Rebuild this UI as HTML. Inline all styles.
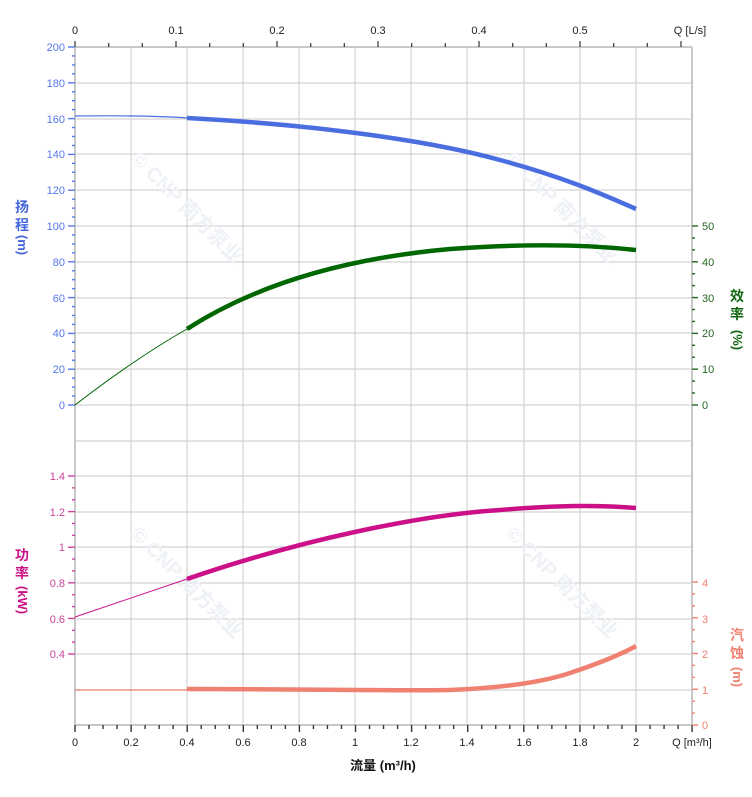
<!DOCTYPE html>
<html><head><meta charset="utf-8"><style>
html,body{margin:0;padding:0;background:#fff;}
svg{display:block;font-family:"Liberation Sans","Noto Sans CJK SC",sans-serif;}
</style></head><body>
<svg width="752" height="797" viewBox="0 0 752 797" xmlns="http://www.w3.org/2000/svg">
<g id="grid" stroke="#d4d4d4" stroke-width="1.2">
<line x1="131" y1="47" x2="131" y2="725"/><line x1="187" y1="47" x2="187" y2="725"/><line x1="243" y1="47" x2="243" y2="725"/><line x1="299" y1="47" x2="299" y2="725"/><line x1="355" y1="47" x2="355" y2="725"/><line x1="411" y1="47" x2="411" y2="725"/><line x1="467" y1="47" x2="467" y2="725"/><line x1="524" y1="47" x2="524" y2="725"/><line x1="580" y1="47" x2="580" y2="725"/><line x1="636" y1="47" x2="636" y2="725"/>
<line x1="75" y1="83" x2="692" y2="83"/><line x1="75" y1="119" x2="692" y2="119"/><line x1="75" y1="154" x2="692" y2="154"/><line x1="75" y1="190" x2="692" y2="190"/><line x1="75" y1="226" x2="692" y2="226"/><line x1="75" y1="262" x2="692" y2="262"/><line x1="75" y1="298" x2="692" y2="298"/><line x1="75" y1="333" x2="692" y2="333"/><line x1="75" y1="369" x2="692" y2="369"/><line x1="75" y1="405" x2="692" y2="405"/><line x1="75" y1="441" x2="692" y2="441"/><line x1="75" y1="476" x2="692" y2="476"/><line x1="75" y1="512" x2="692" y2="512"/><line x1="75" y1="547" x2="692" y2="547"/><line x1="75" y1="583" x2="692" y2="583"/><line x1="75" y1="619" x2="692" y2="619"/><line x1="75" y1="654" x2="692" y2="654"/><line x1="75" y1="690" x2="692" y2="690"/>
</g>
<g stroke="#c8c8c8" stroke-width="2" fill="none">
<line x1="75" y1="47" x2="692" y2="47"/><line x1="75" y1="725" x2="692" y2="725"/><line x1="75" y1="47" x2="75" y2="725"/><line x1="692" y1="47" x2="692" y2="725"/>
</g>
<g fill="#eef1f6" font-size="20" font-weight="bold">
<text transform="translate(130,160) rotate(45)">© CNP 南方泵业</text>
<text transform="translate(505,160) rotate(45)">© CNP 南方泵业</text>
<text transform="translate(130,535) rotate(45)">© CNP 南方泵业</text>
<text transform="translate(505,535) rotate(45)">© CNP 南方泵业</text>
</g>
<g stroke="#333" stroke-width="1.2">
<line x1="75" y1="41" x2="75" y2="47"/><line x1="108.7" y1="43" x2="108.7" y2="47"/><line x1="142.3" y1="43" x2="142.3" y2="47"/><line x1="176" y1="41" x2="176" y2="47"/><line x1="209.7" y1="43" x2="209.7" y2="47"/><line x1="243.3" y1="43" x2="243.3" y2="47"/><line x1="277" y1="41" x2="277" y2="47"/><line x1="310.7" y1="43" x2="310.7" y2="47"/><line x1="344.3" y1="43" x2="344.3" y2="47"/><line x1="378" y1="41" x2="378" y2="47"/><line x1="411.7" y1="43" x2="411.7" y2="47"/><line x1="445.3" y1="43" x2="445.3" y2="47"/><line x1="479" y1="41" x2="479" y2="47"/><line x1="512.7" y1="43" x2="512.7" y2="47"/><line x1="546.3" y1="43" x2="546.3" y2="47"/><line x1="580" y1="41" x2="580" y2="47"/><line x1="613.7" y1="43" x2="613.7" y2="47"/><line x1="647.3" y1="43" x2="647.3" y2="47"/><line x1="681" y1="41" x2="681" y2="47"/>
</g>
<g font-size="11" fill="#222" text-anchor="middle">
<text x="75" y="34">0</text><text x="176" y="34">0.1</text><text x="277" y="34">0.2</text><text x="378" y="34">0.3</text><text x="479" y="34">0.4</text><text x="580" y="34">0.5</text>
<text x="690" y="34" text-anchor="middle">Q [L/s]</text>
</g>
<g stroke="#333" stroke-width="1.2" id="bt"></g>
<g font-size="11" fill="#222" text-anchor="middle">
<text x="75" y="746">0</text><text x="131" y="746">0.2</text><text x="187" y="746">0.4</text><text x="243" y="746">0.6</text><text x="299" y="746">0.8</text><text x="355" y="746">1</text><text x="411" y="746">1.2</text><text x="467" y="746">1.4</text><text x="524" y="746">1.6</text><text x="580" y="746">1.8</text><text x="636" y="746">2</text>
<text x="692" y="746">Q [m³/h]</text>
</g>
<text x="383" y="770" font-size="13" font-weight="bold" fill="#111" text-anchor="middle">流量 (m³/h)</text>
<g font-size="11" fill="#5577ee" text-anchor="end">
<text x="65" y="51">200</text><text x="65" y="87">180</text><text x="65" y="123">160</text><text x="65" y="158">140</text><text x="65" y="194">120</text><text x="65" y="230">100</text><text x="65" y="266">80</text><text x="65" y="302">60</text><text x="65" y="337">40</text><text x="65" y="373">20</text><text x="65" y="409">0</text>
</g>
<g id="lt"></g>
<g font-size="11" fill="#cc4499" text-anchor="end">
<text x="65" y="480">1.4</text><text x="65" y="516">1.2</text><text x="65" y="551">1</text><text x="65" y="587">0.8</text><text x="65" y="623">0.6</text><text x="65" y="658">0.4</text>
</g>
<g font-size="11" fill="#226622">
<text x="702" y="230">50</text><text x="702" y="266">40</text><text x="702" y="302">30</text><text x="702" y="337">20</text><text x="702" y="373">10</text><text x="702" y="409">0</text>
</g>
<g font-size="11" fill="#f08070">
<text x="702" y="587">4</text><text x="702" y="623">3</text><text x="702" y="658">2</text><text x="702" y="694">1</text><text x="702" y="729">0</text>
</g>
<g font-size="14" font-weight="bold" text-anchor="middle">
<g fill="#4466dd"><text x="22" y="212">扬</text><text x="22" y="230">程</text><text transform="translate(18,245) rotate(90)" font-size="13">(m)</text></g>
<g fill="#116611"><text x="737" y="301">效</text><text x="737" y="319">率</text><text transform="translate(733,340) rotate(90)" font-size="13">(%)</text></g>
<g fill="#cc1188"><text x="22" y="560">功</text><text x="22" y="578">率</text><text transform="translate(18,600) rotate(90)" font-size="13">(kW)</text></g>
<g fill="#f08070"><text x="737" y="640">汽</text><text x="737" y="658">蚀</text><text transform="translate(733,677) rotate(90)" font-size="13">(m)</text></g>
</g>
<path d="M75,116 C120,115.5 160,116 187,118" stroke="#4a6ee0" stroke-width="1.2" fill="none"/>
<path d="M187,118 C300,124 420,138 500,160 C560,176 600,193 636,209" stroke="#4a6ee0" stroke-width="4.5" fill="none"/>
<path d="M75,405 C110,378 150,350 187,329" stroke="#006600" stroke-width="1" fill="none"/>
<path d="M187,329 C260,282 350,258 450,249 C530,243 590,245 636,250" stroke="#006600" stroke-width="4.5" fill="none"/>
<path d="M75,617 L187,579" stroke="#cc1188" stroke-width="1" fill="none"/>
<path d="M187,579 C300,540 420,515 500,510 C560,505 600,505 636,508" stroke="#cc1188" stroke-width="4.5" fill="none"/>
<path d="M75,690 L187,690" stroke="#f08070" stroke-width="1.2" fill="none"/>
<path d="M187,689 C300,689 400,691 450,690 C500,688 540,683 570,673 C600,663 620,655 636,646" stroke="#f08070" stroke-width="4.5" fill="none"/>
<script>
(function(){
var ns="http://www.w3.org/2000/svg";
function L(g,x1,y1,x2,y2,c){var l=document.createElementNS(ns,"line");l.setAttribute("x1",x1);l.setAttribute("y1",y1);l.setAttribute("x2",x2);l.setAttribute("y2",y2);l.setAttribute("stroke",c);l.setAttribute("stroke-width","1.4");g.appendChild(l);}
var bt=document.getElementById("bt");
for(var i=0;i<=44;i++){var x=75+i*14.025;L(bt,x,725,x,i%4==0?732:729,"#333");}
var lt=document.getElementById("lt");
for(var i=0;i<=40;i++){var y=47+i*8.95;L(lt,i%4==0?68:72,y,75,y,"#5577ee");}
for(var i=0;i<=20;i++){var y=476+i*11.87;if(y>660)break;L(lt,i%3==0?68:72,y,75,y,"#cc4499");}
for(var i=0;i<=15;i++){var y=226+i*11.93;L(lt,692,y,i%3==0?698:695,y,"#226622");}
for(var i=0;i<=12;i++){var y=582+i*11.92;L(lt,692,y,i%3==0?698:695,y,"#f08070");}
})();
</script>
</svg>
</body></html>
